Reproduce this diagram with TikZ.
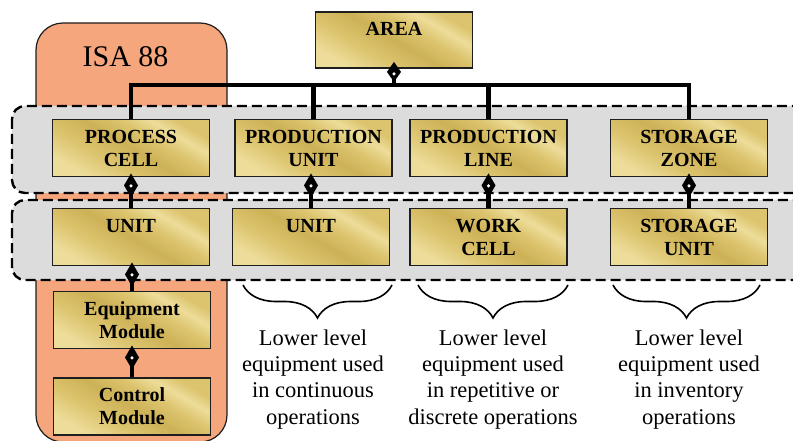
\documentclass[tikz,border=0pt]{standalone}
\usepackage{fontspec}
\setmainfont{Liberation Serif}
\usetikzlibrary{arrows.meta,decorations.pathreplacing,calc}

\definecolor{gA}{HTML}{DCC46E}
\definecolor{gB}{HTML}{EDDD9A}
\definecolor{gC}{HTML}{CDB156}
\definecolor{isaorange}{HTML}{F6A67C}
\definecolor{bandgray}{HTML}{DCDCDC}
\definecolor{edge}{HTML}{1E1E1E}

% brushed-gold fill for the equipment boxes
\pgfdeclarehorizontalshading{goldmetal}{100bp}{color(0bp)=(gB); color(25bp)=(gB); color(38bp)=(gA); color(50bp)=(gC); color(60bp)=(gA); color(68bp)=(gB); color(75bp)=(gA); color(100bp)=(gA)}

% aggregation link: diamond at the parent, line down to the child
\newcommand\aggline[2]{%
  \draw[agg] ($(#2.north |- #1.south)+(0,-4)$) -- (#2.north);
  \fill[white] ($(#2.north |- #1.south)+(0,8.5)$) circle (1.7pt);}

\begin{document}
\begin{tikzpicture}[x=1pt,y=-1pt,
  unitbox/.style={draw=edge, line width=1.8pt, shade, shading=goldmetal, shading angle=60,
    minimum width=157pt, minimum height=57pt, inner sep=0pt, align=center,
    font=\bfseries\fontsize{20}{23}\selectfont},
  band/.style={draw=black, fill=bandgray, line width=2.4pt, dash pattern=on 10pt off 5pt, rounded corners=13pt},
  isabox/.style={draw=edge, fill=isaorange, line width=1.2pt, rounded corners=27pt},
  wire/.style={line width=4.5pt, black},
  agg/.style={wire, {Kite[length=24pt,width=14pt,inset=12pt,line width=0pt]}-},
  aggtop/.style={wire, {Kite[length=20pt,width=14pt,inset=10pt,line width=0pt]}-},
  note/.style={align=center, inner sep=0pt, anchor=north, font=\fontsize{22.5}{26.3}\selectfont},
  bracemark/.style={decorate, decoration={brace, mirror, amplitude=33pt}, line width=1.6pt}
]
\useasboundingbox (0,0) rectangle (793,441);
\fill[white] (0,0) rectangle (793,441);

% ISA 88 column
\draw[isabox] (36,23) rectangle (227,442);
\node[anchor=base, inner sep=0pt, font=\fontsize{30}{30}\selectfont] (isa) at (125.5,67) {ISA 88};

% level bands
\draw[band] (12,106) rectangle (815,193);
\draw[band] (12,200) rectangle (815,280);

% boxes
\node[unitbox, minimum height=56pt] (area) at (394,40) {AREA\\\mbox{}};

\node[unitbox] (procell)  at (131,148)   {PROCESS\\CELL};
\node[unitbox] (produnit) at (313.5,148) {PRODUCTION\\UNIT};
\node[unitbox] (prodline) at (488.5,148) {PRODUCTION\\LINE};
\node[unitbox] (storzone) at (689,148)   {STORAGE\\ZONE};

\node[unitbox] (unita)    at (131,237)   {UNIT\\\mbox{}};
\node[unitbox] (unitb)    at (311,237)   {UNIT\\\mbox{}};
\node[unitbox] (workcell) at (488.5,237) {WORK\\CELL};
\node[unitbox] (storunit) at (689,237)   {STORAGE\\UNIT};

\node[unitbox] (equip)    at (132,320)   {Equipment\\Module};
\node[unitbox] (control)  at (132,406.5) {Control\\Module};

% bus below AREA
\coordinate (bus) at (394,85);
\draw[wire] (procell.north) |- (bus) -| (storzone.north);
\draw[wire] (produnit.north) -- (produnit.north |- bus);
\draw[wire] (prodline.north) -- (prodline.north |- bus);
\draw[aggtop] ($(area.south)+(0,-7)$) -- (bus);
\fill[white] ($(area.south)+(0,5)$) circle (1.7pt);

% aggregation links
\aggline{procell}{unita}
\aggline{produnit}{unitb}
\aggline{prodline}{workcell}
\aggline{storzone}{storunit}
\aggline{unita}{equip}
\aggline{equip}{control}

% braces and notes
\draw[bracemark] (243,285) -- (392,285);
\draw[bracemark] (418,285) -- (568,285);
\draw[bracemark] (613,285) -- (760,285);

\node[note] (notea) at (313,329.5) {Lower level\\equipment used\\in continuous\\operations};
\node[note] (noteb) at (493,329.5) {Lower level\\equipment used\\in repetitive or\\discrete operations};
\node[note] (notec) at (689,329.5) {Lower level\\equipment used\\in inventory\\operations};
\end{tikzpicture}
\end{document}
